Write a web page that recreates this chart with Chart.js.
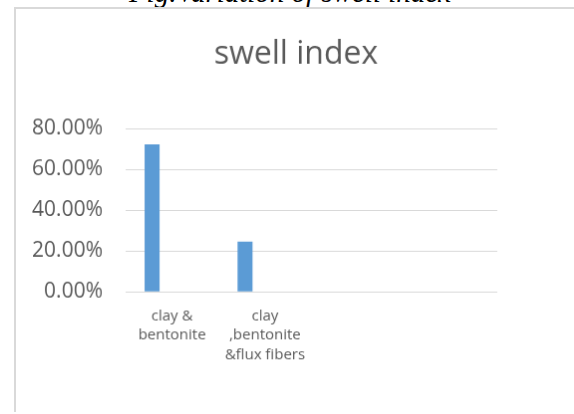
<!DOCTYPE html>
<html>
<head>
<meta charset="utf-8">
<script src="https://cdn.jsdelivr.net/npm/chart.js@4"></script>
<style>
    body { margin: 0; background: #fff; overflow: hidden; }
    #caption {
        position: absolute; left: 0; width: 580px; top: -22px; line-height: 29px;
        text-align: center; font-family: "Liberation Serif", serif; font-style: italic; font-size: 29px; color: #000;
    }
    #swellChart {
        position: absolute; left: 14px; top: 7px;
        border-left: 2px solid #d9d9d9; border-top: 2px solid #d9d9d9;
    }
</style>
</head>
<body>
<div id="caption">Fig.Variation of swell index</div>
<canvas id="swellChart" width="562" height="405"></canvas>
<script>
const categories = [['clay &', 'bentonite'], ['clay', ',bentonite', '&flux fibers'], '', ''];
const swellIndex = [0.723, 0.247, null, null];
const emptySeries = [null, null, null, null];
const yTicks = [0, 0.2, 0.4, 0.6, 0.8];

const textColor = '#595959';
const gridColor = '#d9d9d9';

function initChart() {
    const ctx = document.getElementById('swellChart').getContext('2d');
    new Chart(ctx, {
        type: 'bar',
        data: {
            labels: categories,
            datasets: [
                { label: 'swell index', data: swellIndex, backgroundColor: '#5b9bd5' },
                { label: 'Series2', data: emptySeries, backgroundColor: '#ed7d31' },
                { label: 'Series3', data: emptySeries, backgroundColor: '#a5a5a5' }
            ]
        },
        options: {
            responsive: false,
            animation: false,
            categoryPercentage: 0.645,
            barPercentage: 0.75,
            layout: { padding: 0 },
            plugins: {
                legend: { display: false },
                tooltip: { enabled: false },
                title: {
                    display: true,
                    text: 'swell index',
                    color: textColor,
                    font: { family: 'Open Sans', size: 32, weight: 'normal' },
                    padding: { top: 26.4, bottom: 55.5 }
                }
            },
            scales: {
                x: {
                    grid: { display: false, drawTicks: false },
                    border: { display: false },
                    ticks: {
                        color: textColor,
                        font: { family: 'Open Sans', size: 15, lineHeight: 1.33 },
                        maxRotation: 0,
                        autoSkip: false,
                        padding: 14
                    },
                    afterFit: (scale) => { scale.height = 120.7; }
                },
                y: {
                    min: 0,
                    max: 0.8,
                    afterBuildTicks: (scale) => { scale.ticks = yTicks.map(v => ({ value: v })); },
                    grid: { color: gridColor, lineWidth: 1, drawTicks: false },
                    border: { display: false },
                    ticks: {
                        color: textColor,
                        font: { family: 'Open Sans', size: 21 },
                        padding: 23,
                        callback: (v) => (v * 100).toFixed(2) + '%'
                    },
                    afterFit: (scale) => { scale.width = 110; }
                },
                // blank right-hand space of the plot frame
                yRight: {
                    position: 'right',
                    grid: { display: false, drawTicks: false },
                    border: { display: false },
                    ticks: { display: false },
                    afterFit: (scale) => { scale.width = 79; }
                }
            }
        }
    });
}

document.addEventListener('DOMContentLoaded', () => {
    initChart();
});
</script>
</body>
</html>
